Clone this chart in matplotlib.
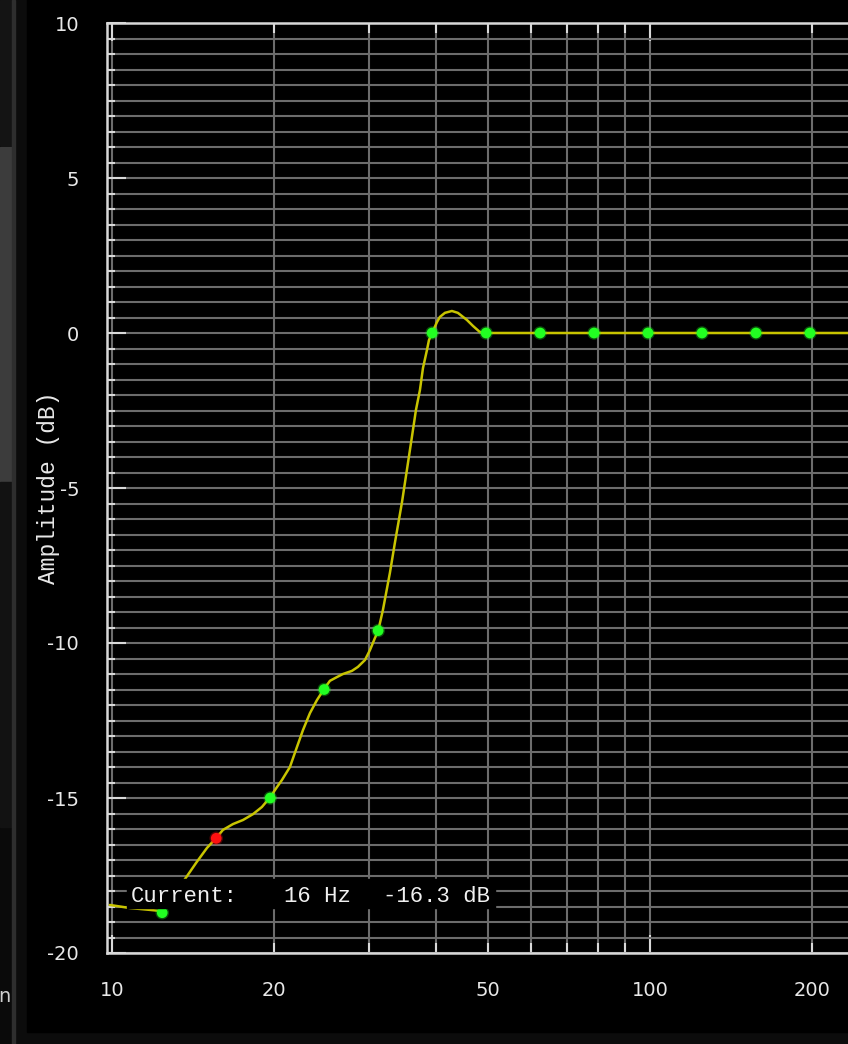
import matplotlib.pyplot as plt
import numpy as np
from matplotlib.patches import Rectangle
from matplotlib.ticker import FixedLocator, FuncFormatter

plt.rcParams['axes.unicode_minus'] = False

# control points of the EQ curve (Hz, dB); index 1 is the selected one
dot_freq = [12.40, 15.625, 19.69, 24.80, 31.25, 39.37, 49.61, 62.5, 78.75, 99.21, 125.0, 157.49, 198.43, 250.0]
dot_db = [-18.7, -16.3, -15.0, -11.5, -9.6, 0, 0, 0, 0, 0, 0, 0, 0, 0]
sel = 1

# response curve
curve_freq = [9.91, 10.80, 11.77, 12.40, 13.55, 14.38, 15.02, 15.625, 16.08, 16.79, 17.52, 18.29,
              19.00, 19.69, 20.26, 20.70, 21.42, 22.08, 22.65, 23.34, 24.05, 24.80, 25.42, 26.19,
              26.88, 27.93, 28.66, 29.53, 30.17, 30.82, 31.25, 31.89, 32.86, 33.57, 34.59, 35.34,
              36.11, 36.74, 37.37, 37.86, 38.51, 38.84, 39.37, 40.19, 40.71, 41.59, 42.85, 43.96,
              45.70, 46.88, 48.31, 49.61, 250.0]
curve_db = [-18.45, -18.55, -18.61, -18.65, -17.71, -17.06, -16.61, -16.29, -16.03, -15.84, -15.71, -15.52,
            -15.29, -14.97, -14.65, -14.42, -14.0, -13.35, -12.81, -12.26, -11.84, -11.48, -11.22, -11.10,
            -11.0, -10.90, -10.77, -10.55, -10.23, -9.84, -9.61, -8.94, -7.74, -6.77, -5.48, -4.42,
            -3.35, -2.48, -1.84, -1.13, -0.55, -0.23, 0.0, 0.35, 0.52, 0.65, 0.71, 0.65,
            0.42, 0.23, 0.03, 0.0, 0.0]

xticks_major = [10, 100]
xticks_minor = [20, 30, 40, 50, 60, 70, 80, 90, 200]
xlabels_minor = {20: '20', 50: '50', 200: '200'}

fig = plt.figure(figsize=(8.48, 10.44), dpi=100, facecolor='#0c0c0c')

# screenshot surroundings
fig.add_artist(Rectangle((0, 0), 12/848, 1, transform=fig.transFigure, color='#0a0a0a', zorder=0))
fig.add_artist(Rectangle((0, 1-145/1044), 12/848, 145/1044, transform=fig.transFigure, color='#141414', zorder=0))
fig.add_artist(Rectangle((0, 1-482/1044), 12/848, 335/1044, transform=fig.transFigure, color='#3c3c3c', zorder=0))
fig.add_artist(Rectangle((0, 1-827/1044), 12/848, 345/1044, transform=fig.transFigure, color='#121212', zorder=0))
fig.add_artist(Rectangle((12/848, 0), 3/848, 1, transform=fig.transFigure, color='#2e2e2e', zorder=0))
fig.add_artist(Rectangle((27/848, 12/1044), 1, 1, transform=fig.transFigure, color='black', zorder=0))
fig.text(11/848, 1-997/1044, 'n', color='#d0d0d0', fontsize=14, ha='right', va='center')

ax = fig.add_axes([107/848, 91/1044, 741/848, 930/1044])
ax.set_facecolor('black')
ax.set_xscale('log')
ax.set_xlim(9.79, 233.5)
ax.set_ylim(-20, 10)

grid_c = '#6c6c6c'
for s in ['left', 'top', 'bottom']:
    ax.spines[s].set_color('#d8d8d8')
    ax.spines[s].set_linewidth(1.8)
ax.spines['right'].set_visible(False)

ax.xaxis.set_major_locator(FixedLocator(xticks_major))
ax.xaxis.set_minor_locator(FixedLocator(xticks_minor))
ax.xaxis.set_major_formatter(FuncFormatter(lambda v, p: '%d' % v))
ax.xaxis.set_minor_formatter(FuncFormatter(lambda v, p: xlabels_minor.get(int(round(v)), '')))
ax.yaxis.set_major_locator(FixedLocator(np.arange(-20, 11, 5)))
ax.yaxis.set_minor_locator(FixedLocator(np.arange(-20, 10.01, 0.5)))
ax.yaxis.set_major_formatter(FuncFormatter(lambda v, p: '%d' % v))

ax.grid(True, which='both', color=grid_c, lw=1.5, zorder=0)
ax.set_axisbelow(True)

ax.tick_params(axis='both', which='both', direction='in', colors='#d8d8d8',
               labelcolor='#e8e8e8', labelsize=14, width=1.5, top=True)
ax.tick_params(axis='y', which='major', length=14, pad=20)
ax.tick_params(axis='y', which='minor', length=6)
ax.tick_params(axis='x', which='major', length=13, pad=20)
ax.tick_params(axis='x', which='minor', length=7, pad=20, labelsize=14)

ax.set_ylabel('Amplitude (dB)', color='#e8e8e8', fontsize=16.5, family='Liberation Mono')
ax.yaxis.set_label_coords(-0.064, 0.5)

ax.plot(curve_freq, curve_db, color='#c8c400', lw=1.8, zorder=3,
        solid_joinstyle='round', solid_capstyle='round')

dot_c = ['#ff1010' if i == sel else '#22ff22' for i in range(len(dot_freq))]
ax.scatter(dot_freq, dot_db, s=95, c=dot_c, alpha=0.3, lw=0, zorder=4)
ax.scatter(dot_freq, dot_db, s=60, c=dot_c, lw=0, zorder=5)

# readout box
ax.add_patch(Rectangle((0.027, 0.0484), 0.4966, 0.031, transform=ax.transAxes,
                       color='black', zorder=6))
ax.text(0.032, 0.0605, 'Current:', transform=ax.transAxes, color='#f0f0f0',
        fontsize=16, family='Liberation Mono', va='center', zorder=7)
ax.text(0.239, 0.0605, '%d Hz' % round(dot_freq[sel]), transform=ax.transAxes, color='#f0f0f0',
        fontsize=16, family='Liberation Mono', va='center', zorder=7)
ax.text(0.372, 0.0605, '%.1f dB' % dot_db[sel], transform=ax.transAxes, color='#f0f0f0',
        fontsize=16, family='Liberation Mono', va='center', zorder=7)

fig.savefig('out.png', dpi=100, facecolor=fig.get_facecolor())
